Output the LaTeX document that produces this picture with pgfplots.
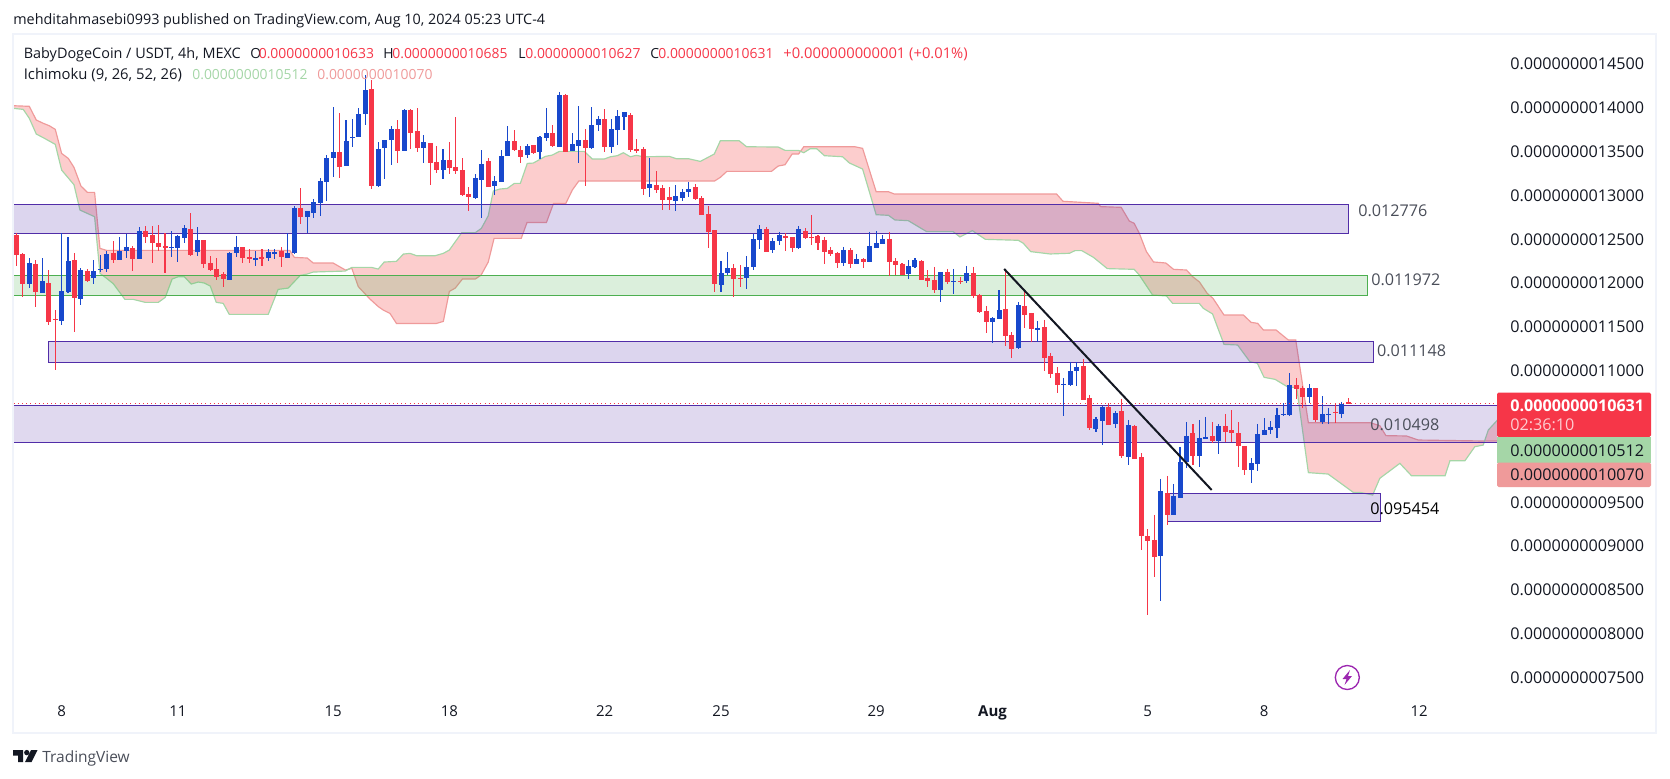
\documentclass[border=0pt]{standalone}
\usepackage{fontspec}
\setmainfont{Open Sans}
\usepackage{pgfplots}
\usepackage{pgfplotstable}
\pgfplotsset{compat=1.18}
\usepgfplotslibrary{fillbetween}

\definecolor{upc}{HTML}{1848CC}
\definecolor{downc}{HTML}{F63648}
\definecolor{cloudfill}{HTML}{FCCDCD}
\definecolor{cloudred}{HTML}{EF9A9A}
\definecolor{cloudgreen}{HTML}{A5D6A7}
\definecolor{zonepurple}{HTML}{512DA8}
\definecolor{zonegreen}{HTML}{4CAF50}
\definecolor{tvtext}{HTML}{131722}
\definecolor{tvgrey}{HTML}{4A4E59}
\definecolor{tvframe}{HTML}{F0F3FA}

% candles, prices x 1e-12: bar, body top, body bottom, high, low
\pgfplotstableread{
i t b h l
2 12230 11994 12283 11948
4 12024 11887 12283 11887
7 11910 11568 12568 11526
8 12252 11899 12526 11891
10 12150 11819 12173 11751
12 12138 12058 12264 11990
13 12161 12150 12321 12127
14 12332 12161 12366 12127
16 12366 12264 12526 12264
17 12412 12366 12564 12287
19 12595 12275 12640 12275
24 12412 12401 12595 12298
25 12538 12401 12549 12241
26 12629 12515 12663 12458
28 12492 12355 12640 12309
33 12344 12036 12355 12036
34 12412 12344 12538 12298
37 12287 12264 12366 12195
39 12355 12287 12389 12252
40 12355 12332 12389 12275
42 12344 12287 12568 12287
43 12857 12344 12880 12332
45 12823 12754 12823 12572
46 12925 12800 12960 12743
47 13165 12914 13199 12766
48 13427 13153 13461 12937
49 13496 13427 14009 13210
51 13621 13336 13861 13336
52 13667 13655 13872 13553
53 13929 13667 13998 13667
54 14203 13929 14374 13804
56 13530 13108 13610 13096
57 13633 13541 13633 13188
58 13758 13633 13792 13347
60 13975 13507 13986 13507
63 13610 13541 13690 13370
66 13404 13290 13530 13188
71 13199 12971 13245 12960
72 13359 13176 13518 12743
74 13165 13108 13222 13005
75 13450 13153 13518 13153
76 13621 13450 13792 13450
79 13564 13461 13587 13427
81 13667 13496 13678 13416
82 13712 13655 13998 13621
84 14146 13553 14180 13553
86 13587 13507 13712 13507
87 13633 13564 14020 13370
89 13804 13541 14009 13530
90 13872 13804 13906 13735
92 13758 13553 13872 13484
93 13906 13747 13975 13575
94 13952 13895 13952 13747
98 13131 13085 13427 12982
102 12994 12937 13119 12823
103 13039 12971 13074 12937
104 13074 13039 13153 12982
109 12116 11979 12252 11899
110 12173 12116 12355 12093
113 12184 12058 12309 11933
114 12503 12184 12564 12150
115 12617 12492 12663 12389
117 12481 12378 12515 12344
118 12549 12481 12583 12435
121 12617 12401 12652 12389
128 12379 12230 12413 12196
130 12276 12219 12333 12219
132 12424 12242 12584 12242
133 12458 12401 12595 12401
134 12504 12447 12550 12447
138 12196 12105 12264 12048
139 12264 12185 12287 12173
143 12128 11922 12128 11785
145 12025 12014 12162 11877
147 12116 12025 12196 12002
151 11603 11557 11614 11318
152 11694 11592 11922 11592
155 11751 11261 11785 11249
158 11489 11466 11569 11329
162 10850 10839 10919 10485
163 10998 10839 11101 10827
164 11044 10998 11101 10827
167 10451 10337 10474 10303
168 10588 10428 10599 10154
170 10519 10394 10542 10348
172 10383 10017 10440 9926
177 9630 8888 9767 8375
179 9573 9356 9710 9356
180 9961 9550 10132 9550
181 10257 9961 10417 9892
183 10234 10029 10440 9904
184 10246 10223 10474 10223
186 10371 10200 10394 10052
191 9949 9869 10006 9721
192 10280 9937 10394 9858
193 10325 10268 10462 10268
194 10359 10325 10428 10280
195 10496 10348 10576 10234
196 10508 10496 10633 10485
197 10838 10496 10975 10485
200 10804 10702 10850 10633
202 10508 10416 10713 10394
203 10508 10496 10576 10394
205 10622 10508 10645 10462
}\upcandles

\pgfplotstableread{
i t b h l
0 12549 12321 12568 12195
1 12332 11994 12340 11846
3 12218 11899 12264 11732
5 12002 11560 12150 11526
6 11591 11583 11693 11009
9 12264 11830 12344 11443
11 12138 12024 12157 12013
15 12344 12264 12481 12230
18 12401 12275 12423 12138
20 12595 12526 12652 12458
21 12549 12458 12652 12230
22 12458 12412 12663 12366
23 12420 12401 12568 12116
27 12617 12321 12800 12309
29 12492 12218 12492 12173
30 12230 12150 12309 12138
31 12161 12070 12287 12036
32 12104 12047 12127 11956
35 12412 12287 12412 12230
36 12298 12275 12389 12230
38 12298 12275 12389 12195
41 12366 12298 12412 12184
44 12857 12754 13085 12674
50 13496 13325 13940 13199
55 14214 13108 14317 13074
59 13758 13507 13861 13370
61 13975 13712 13986 13530
62 13735 13541 13998 13496
64 13598 13370 13598 13119
65 13382 13290 13564 13256
67 13404 13313 13610 13245
68 13325 13279 13895 13245
69 13290 13005 13427 12994
70 13017 12982 13096 12823
73 13393 13096 13427 13096
77 13621 13518 13747 13507
78 13518 13439 13564 13370
80 13575 13484 13575 13473
83 13712 13564 13804 13553
85 14146 13496 14157 13496
88 13633 13541 13758 13108
91 13872 13553 13986 13496
95 13918 13518 13940 13496
96 13530 13503 13644 13484
97 13530 13074 13553 13005
99 13119 13062 13279 13028
100 13085 12948 13119 12834
101 12982 12948 13096 12834
105 13096 12960 13131 12948
106 12971 12777 12994 12777
107 12788 12583 12880 12401
108 12606 11990 12606 11899
111 12173 12047 12218 11842
112 12058 12047 12207 11956
116 12617 12355 12640 12355
119 12538 12515 12572 12366
120 12526 12401 12526 12355
122 12595 12515 12629 12503
123 12526 12515 12777 12435
124 12538 12458 12549 12378
125 12493 12356 12527 12219
126 12379 12333 12413 12310
127 12344 12230 12356 12173
129 12379 12219 12401 12173
131 12276 12242 12287 12173
135 12504 12242 12584 12082
136 12253 12207 12287 12093
137 12219 12093 12230 12093
140 12253 12036 12264 12036
141 12059 12025 12150 11957
142 12036 11922 12185 11888
144 12128 12014 12162 11991
146 12029 12017 12071 11991
148 12116 11854 12185 11831
149 11865 11671 11877 11660
150 11683 11557 11740 11432
153 11706 11398 12162 11284
154 11409 11249 11443 11147
156 11740 11637 11911 11489
157 11660 11478 11660 11329
159 11500 11147 11580 10998
160 11170 10964 11204 10919
161 10976 10839 11044 10748
165 11055 10668 11135 10668
166 10690 10348 10725 10326
169 10588 10383 10633 10383
171 10542 10029 10679 10006
173 10371 9995 10383 9995
174 10017 9116 10063 8957
175 9116 9059 9196 8215
176 9071 8877 9356 8649
178 9607 9356 9801 9242
182 10291 10029 10394 9926
185 10257 10200 10417 10177
187 10371 10302 10508 10188
188 10325 10291 10553 10188
189 10291 10143 10416 9903
190 10143 9869 10143 9812
198 10838 10793 10918 10679
199 10804 10702 10827 10576
201 10804 10439 10804 10416
204 10531 10519 10633 10405
206 10640 10627 10685 10627
}\downcandles

% Ichimoku span B (red edge)
\pgfplotstableread{
i p
-0.46 14024
2.01 14017
3.09 13861
4.18 13823
5.10 13796
6.03 13754
7.01 13480
8.04 13423
8.92 13321
10.0 13108
10.98 13036
12.11 13036
12.94 12397
13.97 12374
42.3 12374
43.0 12294
45.0 12287
45.93 12230
49.0 12230
50.9 12150
51.9 12169
52.9 11960
54.7 11819
56.0 11732
56.75 11694
57.8 11655
58.8 11541
65.0 11541
66.05 11564
66.98 11906
67.9 11944
69.0 12047
71.0 12047
71.9 12093
73.0 12241
73.9 12511
78.1 12511
79.0 12693
82.0 12693
83.1 12910
85.0 12910
86.0 13062
87.0 13165
108.0 13165
108.9 13207
109.9 13275
116.8 13275
117.85 13336
118.9 13351
120.0 13473
121.0 13473
121.8 13556
129.7 13556
130.9 13538
133.0 13043
134.9 13043
135.8 13017
160.9 13017
161.9 12934
167.35 12911
167.7 12873
170.9 12865
172.15 12709
172.9 12683
173.7 12569
174.8 12360
175.9 12242
177.8 12230
179.0 12158
181.0 12150
181.95 12074
183.0 12014
184.2 11884
185.1 11827
186.8 11637
189.8 11637
191.0 11553
192.0 11542
192.9 11466
194.85 11466
196.75 11352
197.9 11352
199.85 10409
209.4 10409
210.9 10375
211.85 10261
215.05 10257
216.85 10211
226.9 10200
229.1 10200
}\spanb

% Ichimoku span A (green edge)
\pgfplotstableread{
i p
-0.46 13994
1.08 13982
2.01 13880
3.09 13701
4.18 13659
6.03 13583
7.01 13290
8.92 13123
9.85 12834
10.98 12796
12.11 12758
12.94 12112
13.71 12070
15.0 11994
16.8 11815
18.1 11815
19.95 11781
21.96 11781
23.04 11838
24.1 12047
25.05 12074
25.98 12074
27.06 11990
28.14 12013
29.07 12002
30.0 11967
30.93 11781
32.0 11770
32.94 11644
38.97 11644
40.5 11929
42.06 11944
43.92 12089
45.0 12104
45.93 12127
49.0 12134
50.88 12138
51.9 12180
54.95 12180
55.98 12161
56.9 12241
58.8 12249
59.87 12332
60.9 12340
61.93 12313
64.76 12313
66.05 12340
66.98 12378
68.9 12576
71.0 12576
71.93 12625
73.0 12769
73.78 13051
74.8 13074
75.95 13081
77.03 13138
77.96 13138
79.04 13366
79.97 13370
81.82 13446
82.9 13461
84.0 13503
87.85 13503
89.1 13416
90.95 13416
91.9 13442
92.96 13454
93.9 13488
94.97 13442
95.9 13458
97.0 13442
101.0 13446
102.1 13420
103.94 13420
105.8 13389
107.96 13473
108.9 13625
111.8 13625
112.96 13556
117.85 13553
118.9 13515
120.95 13515
121.8 13488
122.8 13534
123.8 13534
125.0 13454
127.8 13442
128.85 13371
130.9 13302
133.0 12781
134.9 12774
135.9 12721
137.97 12713
140.8 12588
144.9 12588
145.96 12527
147.87 12599
149.9 12500
154.98 12489
155.76 12455
156.9 12360
159.9 12333
162.9 12341
163.75 12371
164.8 12371
166.6 12295
168.75 12166
172.9 12158
173.7 12093
175.75 11865
177.9 11854
178.85 11770
182.97 11770
183.6 11713
185.03 11649
186.8 11302
188.9 11295
190.8 11105
191.96 11086
193.0 10926
194.7 10903
196.75 10812
198.04 10812
199.85 9839
202.9 9823
206.8 9614
207.83 9614
209.8 9584
210.9 9774
214.0 9945
215.8 9804
221.0 9804
221.75 9975
224.07 9975
225.6 10135
226.9 10154
227.68 10325
229.1 10439
}\spana

\begin{document}
\begin{tikzpicture}
\begin{axis}[
    at={(8.4pt,48.6pt)}, anchor=south west,
    width=889.8pt, height=397.8pt, scale only axis,
    xmin=-0.356, xmax=229.03,
    ymin=7280, ymax=14842,
    axis line style={draw=none},
    major tick length=0pt,
    scaled y ticks=false,
    xtick={7,25,49,67,91,109,133,151,175,193,217},
    xticklabels={8,11,15,18,22,25,29,\textbf{Aug},5,8,12},
    ytick={7500,8000,8500,9000,9500,11000,11500,12000,12500,13000,13500,14000,14500},
    yticklabels={0.0000000007500,0.0000000008000,0.0000000008500,0.0000000009000,0.0000000009500,0.0000000011000,0.0000000011500,0.0000000012000,0.0000000012500,0.0000000013000,0.0000000013500,0.0000000014000,0.0000000014500},
    yticklabel pos=right,
    yticklabel style={font=\fontsize{9.7}{11}\selectfont,text=tvtext,anchor=west,xshift=4.5pt},
    xticklabel style={font=\fontsize{9}{11}\selectfont,text=tvtext,anchor=base,yshift=-11.5pt},
    candle/.style={draw=none,mark=none,forget plot,error bars/.cd,y dir=minus,y explicit,error mark=none,error bar style={solid,draw opacity=1,#1}},
]
% cloud
\addplot[name path=sb,cloudred,line width=0.7pt] table[x=i,y=p] {\spanb};
\addplot[name path=sa,cloudgreen,line width=0.7pt] table[x=i,y=p] {\spana};
\addplot[cloudfill] fill between[of=sb and sa];

% zones
\addplot[draw=zonepurple,line width=0.6pt,fill=zonepurple,fill opacity=0.2,draw opacity=1] coordinates {(-0.4,12900)(206,12900)(206,12569)(-0.4,12569)(-0.4,12900)};
\addplot[draw=zonegreen,line width=0.6pt,fill=zonegreen,fill opacity=0.2,draw opacity=1] coordinates {(-0.4,12090)(209,12090)(209,11862)(-0.4,11862)(-0.4,12090)};
\addplot[draw=zonepurple,line width=0.6pt,fill=zonepurple,fill opacity=0.2,draw opacity=1] coordinates {(5,11337)(210,11337)(210,11097)(5,11097)(5,11337)};
\addplot[draw=zonepurple,line width=0.6pt,fill=zonepurple,fill opacity=0.18,draw opacity=1] coordinates {(-0.4,10610)(229.1,10610)(229.1,10185)(-0.4,10185)(-0.4,10610)};
\addplot[draw=zonepurple,line width=0.6pt,fill=zonepurple,fill opacity=0.2,draw opacity=1] coordinates {(178,9603)(211,9603)(211,9284)(178,9284)(178,9603)};

% candles: wicks, then bodies
\addplot[candle={draw=upc,line width=0.65pt}]
    table[x=i,y=h,y error minus expr=\thisrow{h}-\thisrow{l}] {\upcandles};
\addplot[candle={draw=downc,line width=0.65pt}]
    table[x=i,y=h,y error minus expr=\thisrow{h}-\thisrow{l}] {\downcandles};
\addplot[candle={draw=upc,line width=3pt}]
    table[x=i,y=t,y error minus expr=\thisrow{t}-\thisrow{b}] {\upcandles};
\addplot[candle={draw=downc,line width=3pt}]
    table[x=i,y=t,y error minus expr=\thisrow{t}-\thisrow{b}] {\downcandles};

% last price line and trend line
\addplot[downc,dotted,line width=0.5pt] coordinates {(-0.4,10625)(229.1,10625)};
\addplot[tvtext,line width=1.2pt] coordinates {(152.8,12162)(184.9,9641)};
\end{axis}

\begin{scope}[x=0.6pt,y=-0.6pt,yshift=466.8pt]
% frame
\draw[tvframe,line width=1.5pt] (13,34) rectangle (1656,733);

% header and legend
\node[anchor=base west,inner sep=0,text=tvtext,font=\fontsize{8.62}{10}\selectfont] at (13,25) {mehditahmasebi0993 published on TradingView.com, Aug 10, 2024 05:23 UTC-4};
\begin{scope}[every node/.style={anchor=base west,inner sep=0,font=\fontsize{8.35}{10}\selectfont}]
\node[text=tvtext,font=\fontsize{8.65}{10}\selectfont] at (23.5,59) {BabyDogeCoin / USDT, 4h, MEXC};
\node[text=tvtext] at (250,59) {O};
\node[text=downc] at (258.5,59) {0.0000000010633};
\node[text=tvtext] at (383,59) {H};
\node[text=downc] at (392,59) {0.0000000010685};
\node[text=tvtext] at (518,59) {L};
\node[text=downc] at (525,59) {0.0000000010627};
\node[text=tvtext] at (650,59) {C};
\node[text=downc] at (658,59) {0.0000000010631};
\node[text=downc,font=\fontsize{8.85}{10}\selectfont] at (783,59) {+0.000000000001 (+0.01\%)};
\node[text=tvtext,font=\fontsize{8.9}{10}\selectfont] at (23.5,80) {Ichimoku (9, 26, 52, 26)};
\node[text=cloudgreen] at (192,80) {0.0000000010512};
\node[text=cloudred] at (317,80) {0.0000000010070};
\end{scope}

% zone labels
\begin{scope}[every node/.style={anchor=base west,inner sep=0,text=tvgrey,font=\fontsize{9.7}{11}\selectfont}]
\node at (1358,216) {0.012776};
\node at (1371,285) {0.011972};
\node at (1376.7,356) {0.011148};
\node at (1370,430) {0.010498};
\node[text=black] at (1370,514) {0.095454};
\end{scope}

% price labels on the scale
\fill[downc,rounded corners=1pt] (1497,392.5) rectangle (1651,437);
\fill[cloudgreen] (1497,437) rectangle (1651,462.5);
\fill[cloudred,rounded corners=1pt] (1497,462.5) rectangle (1651,487);
\begin{scope}[every node/.style={anchor=base west,inner sep=0,font=\fontsize{9.7}{11}\selectfont}]
\node[text=white,font=\fontsize{9.7}{11}\selectfont\bfseries] at (1510,411) {0.0000000010631};
\node[text=white,opacity=0.75] at (1510,430) {02:36:10};
\node[text=tvtext] at (1510,456) {0.0000000010512};
\node[text=tvtext] at (1510,480.5) {0.0000000010070};
\end{scope}

% lightning badge
\draw[color={rgb,255:red,156;green,39;blue,176},line width=0.8pt] (1347.3,677.5) circle (12);
\fill[color={rgb,255:red,156;green,39;blue,176}] (1350,670) -- (1342.5,679) -- (1346.5,679) -- (1344.5,685) -- (1352,676) -- (1348,676) -- cycle;

% bottom logo
\fill[tvtext] (13,750) -- (23,750) -- (23,762) -- (18,762) -- (18,755.5) -- (13,755.5) -- cycle;
\fill[tvtext] (26.8,752.6) circle (2.7);
\fill[tvtext] (31,750) -- (37.5,750) -- (31.5,762) -- (25,762) -- cycle;
\node[anchor=base west,inner sep=0,text=tvgrey,font=\fontsize{9.3}{11}\selectfont] at (42,762) {TradingView};
\end{scope}
\pgfresetboundingbox
\path[use as bounding box] (0,0) rectangle (1002pt,466.8pt);
\end{tikzpicture}
\end{document}
